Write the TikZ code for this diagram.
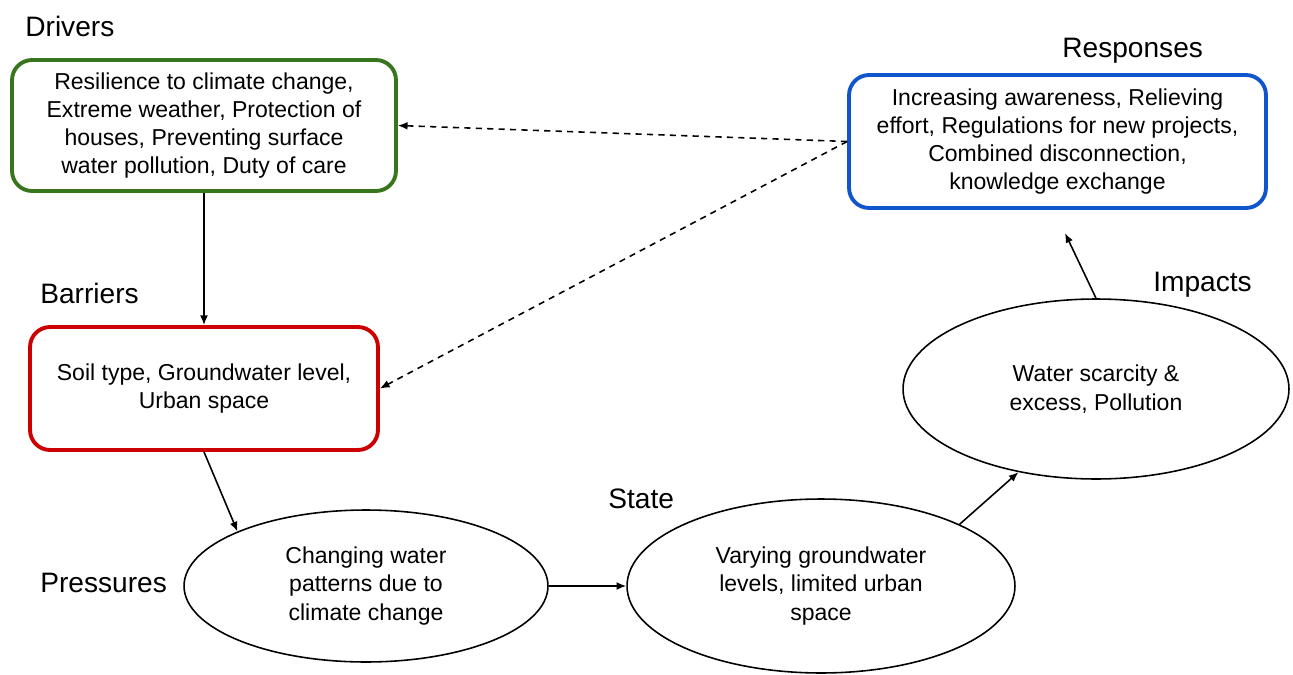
\documentclass[tikz,border=0pt]{standalone}
\usepackage{fontspec}
\setmainfont{Liberation Sans}
\usetikzlibrary{shapes.geometric, arrows.meta, positioning}
\definecolor{drvgreen}{HTML}{38761D}
\definecolor{barred}{HTML}{CC0000}
\definecolor{respblue}{HTML}{1155CC}

\begin{document}
\begin{tikzpicture}[x=0.02cm, y=-0.02cm,
  box/.style={draw, rounded corners=0.4cm, line width=2.2pt, align=center,
              inner sep=0pt, font=\fontsize{13.1}{16.1}\selectfont},
  oval/.style={draw, ellipse, line width=0.9pt, align=center,
               inner sep=0pt, font=\fontsize{13.1}{16.1}\selectfont},
  heading/.style={anchor=base west, inner sep=0pt, font=\fontsize{16}{19}\selectfont},
  arr/.style={-{Latex[length=5.5pt,width=4.5pt]}, line width=0.9pt},
  dasharr/.style={arr, dash pattern=on 3.5pt off 3pt}]
\useasboundingbox (0,0) rectangle (1293,675);
% Boxes
\node[box, draw=drvgreen, minimum width=7.68cm, minimum height=2.62cm] (drivers) at (204,125.5)
    {Resilience to climate change,\\ Extreme weather, Protection of\\ houses, Preventing surface\\ water pollution, Duty of care};
\node[box, draw=barred, minimum width=6.96cm, minimum height=2.46cm] (barriers) at (204,388.5)
    {Soil type, Groundwater level,\\ Urban space};
\node[box, draw=respblue, minimum width=8.34cm, minimum height=2.66cm] (responses) at (1057.5,141.5)
    {Increasing awareness, Relieving\\ effort, Regulations for new projects,\\ Combined disconnection,\\ knowledge exchange};
% Ellipses
\node[oval, minimum width=7.28cm, minimum height=3.04cm] (pressures) at (366,586)
    {Changing water\\ patterns due to\\ climate change};
\node[oval, minimum width=7.76cm, minimum height=3.48cm] (state) at (821,586)
    {Varying groundwater\\ levels, limited urban\\ space};
\node[oval, minimum width=7.72cm, minimum height=3.6cm] (impacts) at (1096,389)
    {Water scarcity \&\\ excess, Pollution};
% Headings
\node[heading] (drvlabel) at (25,37) {Drivers};
\node[heading] (barlabel) at (40,303) {Barriers};
\node[heading] (prslabel) at (40,592) {Pressures};
\node[heading] (stlabel) at (608,508) {State};
\node[heading] (implabel) at (1153,292) {Impacts};
\node[heading] (resplabel) at (1062,58) {Responses};
% Connectors
\coordinate (resptip) at (1065,233);
\draw[arr] (drivers.south) -- (barriers.north);
\draw[arr] (barriers.south) -- (pressures.157);
\draw[arr] (pressures.east) -- (state.west);
\draw[arr] (state.24) -- (impacts.227);
\draw[arr] (impacts.north) -- (resptip);
\draw[dasharr] (responses.west) -- (drivers.east);
\draw[dasharr] (responses.west) -- (barriers.east);
\end{tikzpicture}
\end{document}
